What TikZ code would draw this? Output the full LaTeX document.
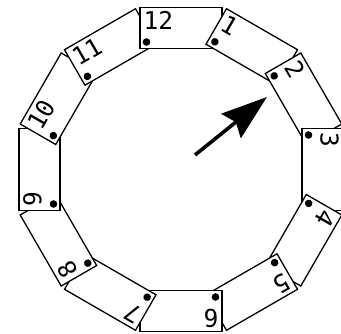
\documentclass[tikz,border=0pt]{standalone}
\usepackage{fontspec}
\setmonofont{DejaVu Sans Mono}
\usetikzlibrary{arrows.meta}

\tikzset{pics/card/.style={code={
    \node[card] (-box) {};
    \fill (-34.5,-14) circle (3.8pt);
    \node[num] (-num) at (-37.5,16.5) {#1};
}}}

\begin{document}
\begin{tikzpicture}[x=1pt, y=1pt,
    card/.style={draw, fill=white, line width=1.3pt, minimum width=82pt, minimum height=41pt, inner sep=0pt},
    num/.style={anchor=north west, inner sep=0pt, font=\ttfamily\fontsize{24.5pt}{24.5pt}\selectfont},
    pointer/.style={-{Stealth[length=46pt, width=31pt, inset=6pt]}, line width=3.6pt}]

    \useasboundingbox (-181,-163.5) rectangle (160,169.5);

    % Cards round the ring (0 is the 12)
    \foreach \n in {0,...,11} {
        \pic[rotate=-30*\n, transform shape] (c\n) at ({90-30*\n}:141.5) {card={\ifnum\n=0 12\else\n\fi}};
    }

    % left half of 12 lies over 11
    \begin{scope}
        \clip (-60,100) rectangle (0,200);
        \pic[transform shape] (top) at (90:141.5) {card=12};
    \end{scope}

    % Pointer
    \coordinate (tail) at (14,14.5);
    \coordinate (tip) at (86,72.5);
    \draw[pointer] (tail) -- (tip);

\end{tikzpicture}
\end{document}
